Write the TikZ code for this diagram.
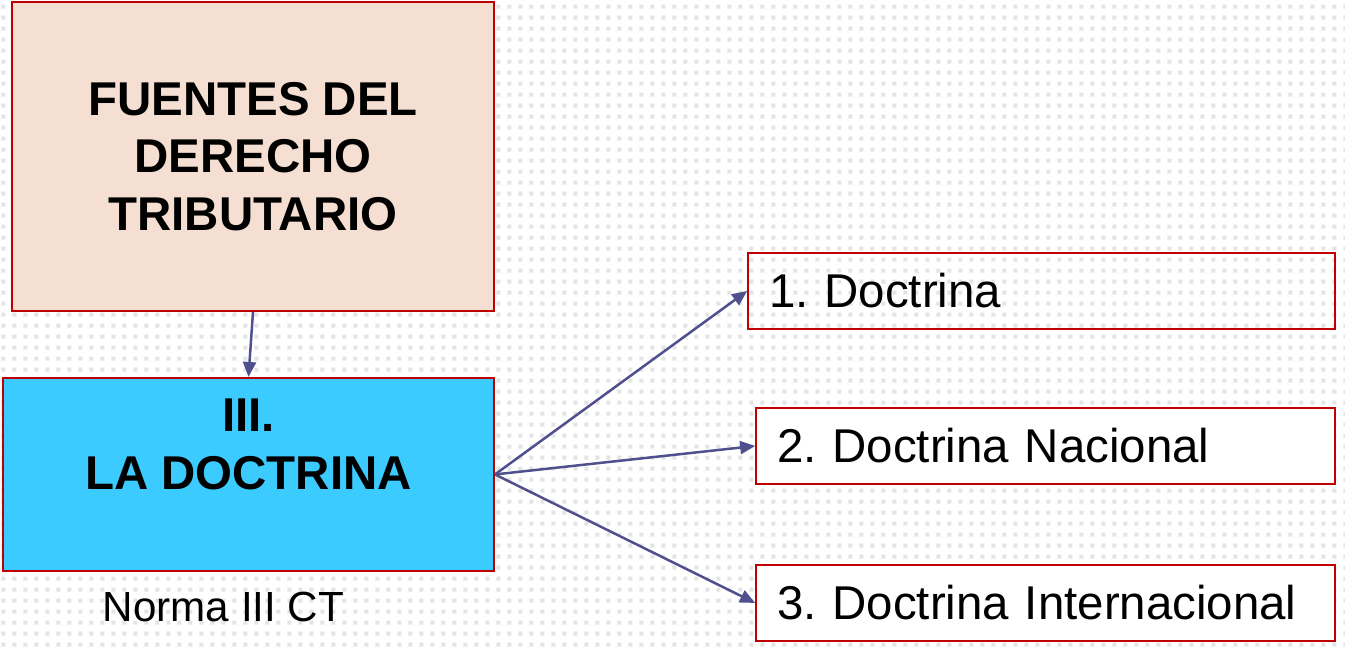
\documentclass[tikz,border=0pt]{standalone}
\usepackage{fontspec}
\setmainfont{Liberation Sans}
\usepackage{tikz}
\usetikzlibrary{shapes, arrows.meta, positioning, calc, patterns}
\frenchspacing

\definecolor{fuentesfill}{HTML}{F5DFD3}
\definecolor{doctrinafill}{HTML}{3CCBFF}
\definecolor{boxborder}{HTML}{C00000}
\definecolor{linkcolor}{HTML}{50508F}
\definecolor{dotcolor}{HTML}{E4E4E4}

\pgfdeclarepatternformonly{bgdots}{\pgfpointorigin}{\pgfpoint{0.22cm}{0.22cm}}{\pgfpoint{0.22cm}{0.22cm}}{%
    \pgfpathrectangle{\pgfpoint{0.03cm}{0.03cm}}{\pgfpoint{0.08cm}{0.08cm}}\pgfusepath{fill}}

\begin{document}
\begin{tikzpicture}[
    x=0.02cm, y=-0.02cm,
    source/.style={rectangle, draw=boxborder, line width=0.04cm, fill=fuentesfill, minimum width=9.64cm, minimum height=6.18cm, align=center, font=\bfseries\fontsize{27pt}{32.7pt}\selectfont},
    topic/.style={rectangle, draw=boxborder, line width=0.04cm, fill=doctrinafill, minimum width=9.82cm, minimum height=3.86cm},
    item/.style={rectangle, draw=boxborder, line width=0.04cm, fill=white, text width=10.74cm, align=left, inner xsep=0.42cm, minimum height=1.52cm, font=\fontsize{27pt}{32.7pt}\selectfont},
    link/.style={draw=linkcolor, line width=0.05cm, -{Triangle[length=0.3cm, width=0.26cm]}}
]
    % Background dots
    \useasboundingbox (0,0) rectangle (1345,648);
    \fill[white] (0,0) rectangle (1345,648);
    \fill[pattern=bgdots, pattern color=dotcolor] (0,0) rectangle (1345,648);

    % Main nodes
    \node (fuentes) [source] at (253,156.5) {FUENTES DEL\\DERECHO\\TRIBUTARIO};
    \node (doctrina) [topic, below=1.30cm of fuentes.south east, anchor=north east,
        label={[inner sep=0pt, anchor=north, yshift=-0.44cm, align=center, font=\bfseries\fontsize{27pt}{32.7pt}\selectfont]north:III.\\LA DOCTRINA}] {};
    \node (norma) [font=\fontsize{24pt}{28pt}\selectfont] at (223.5,607) {Norma III CT};

    % Kinds of doctrine
    \node (uno) [item, fill=none, text width=10.9cm, anchor=east] at (1336,291) {1. Doctrina};
    \node (nacional) [item, below=1.54cm of uno.south east, anchor=north east] {2. Doctrina Nacional};
    \node (internacional) [item, below=1.58cm of nacional.south east, anchor=north east] {3. Doctrina Internacional};

    % Paths
    \draw[link] (fuentes.south) -- (doctrina.north);
    \draw[link] (doctrina.east) -- (uno.west);
    \draw[link] (doctrina.east) -- (nacional.west);
    \draw[link] (doctrina.east) -- (internacional.west);
\end{tikzpicture}
\end{document}
